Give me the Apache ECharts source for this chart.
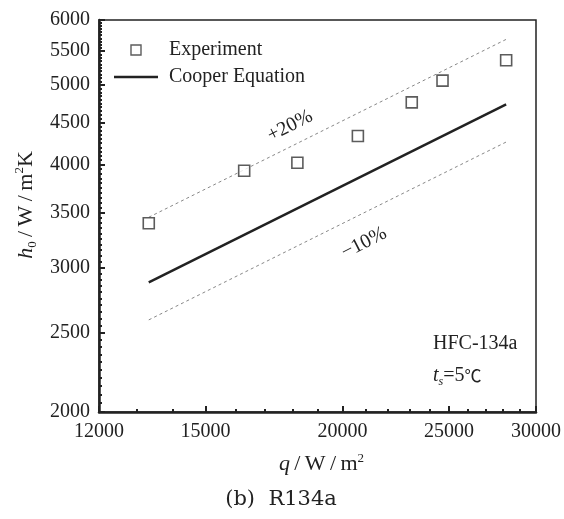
<!DOCTYPE html>
<html>
<head>
<meta charset="utf-8">
<script src="https://cdn.jsdelivr.net/npm/echarts@6/dist/echarts.min.js"></script>
<style>
  html, body { margin: 0; padding: 0; background: #fff; }
  #main { width: 564px; height: 519px; }
</style>
</head>
<body>
<div id="main"></div>
<script>
// measured points (q, h0)
const expQ = [13320, 16270, 18190, 20650, 23120, 24660, 28180];
const expH = [3395, 3932, 4021, 4334, 4763, 5062, 5360];
// Cooper correlation and its +20% / -10% bands (end points)
const lineQ = [13320, 28180];
const cooperH = [2877, 4736];
const upperH = [3452, 5683];
const lowerH = [2589, 4262];

const xTicks = [12000, 15000, 20000, 25000, 30000];
const yTicks = [2000, 2500, 3000, 3500, 4000, 4500, 5000, 5500, 6000];

// minor ticks
let xMinor = [];
for (let v = 13000; v < 30000; v += 1000) {
  if (xTicks.indexOf(v) < 0) xMinor.push(v);
}
let yMinor = [];
for (let v = 2050; v < 6000; v += 50) {
  if (yTicks.indexOf(v) < 0) yMinor.push(v);
}

const serif = '"Liberation Serif", "Times New Roman", serif';
const ink = '#222';
const thin = '\u2009';

function pairs(xs, ys) {
  return xs.map((x, i) => [x, ys[i]]);
}
function plain(v) {
  return String(Math.round(v));
}

const dom = document.getElementById('main');
const myChart = echarts.init(dom, null, { renderer: 'canvas' });

const option = {
  backgroundColor: '#fff',
  animation: false,
  grid: {
    left: 99, right: 26, top: 20, bottom: 107,
    show: true, borderColor: ink, borderWidth: 1.5
  },
  legend: {
    orient: 'vertical',
    left: 114, top: 40, padding: 0,
    itemWidth: 44, itemHeight: 10, itemGap: 7,
    symbolKeepAspect: true,
    data: [
      {
        name: 'Experiment',
        icon: 'path://M0,0H10V10H0Z',
        itemStyle: { color: '#fff', borderColor: '#333', borderWidth: 1.4 }
      },
      {
        name: 'Cooper Equation',
        icon: 'path://M0,0H44V2.5H0Z',
        itemStyle: { color: ink, borderWidth: 0 }
      }
    ],
    textStyle: { fontFamily: serif, fontSize: 20, color: ink, padding: [0, 0, 0, 6] }
  },
  xAxis: [
    {
      type: 'log', logBase: 10, min: 12000, max: 30000,
      name: '{it|q}{n|' + thin + '/' + thin + 'W' + thin + '/' + thin + 'm}{sup|2}',
      nameLocation: 'middle', nameGap: 40,
      nameTextStyle: {
        fontFamily: serif, color: ink,
        padding: [0, 0, 0, 8],
        rich: {
          it: { fontFamily: serif, fontStyle: 'italic', fontSize: 22, lineHeight: 24, color: ink },
          n: { fontFamily: serif, fontSize: 22, lineHeight: 24, color: ink },
          sup: { fontFamily: serif, fontSize: 13, lineHeight: 12, verticalAlign: 'top', color: ink }
        }
      },
      axisLine: { show: true, onZero: false, lineStyle: { color: ink, width: 2.5 } },
      axisTick: { show: true, inside: true, length: 6, customValues: xTicks, lineStyle: { color: ink, width: 2 } },
      axisLabel: { customValues: xTicks, formatter: plain, margin: 10, fontFamily: serif, fontSize: 20, color: ink },
      splitLine: { show: false }
    },
    {
      type: 'log', logBase: 10, min: 12000, max: 30000, position: 'bottom',
      axisLine: { show: false },
      axisTick: { show: true, inside: true, length: 3, customValues: xMinor, lineStyle: { color: ink, width: 2 } },
      axisLabel: { show: false },
      splitLine: { show: false }
    }
  ],
  yAxis: [
    {
      type: 'log', logBase: 10, min: 2000, max: 6000,
      name: '{it|h}{sub|0}{n|' + thin + '/' + thin + 'W' + thin + '/' + thin + 'm}{sup|2}{n|K}',
      nameLocation: 'middle', nameGap: 57, nameRotate: 90,
      nameTextStyle: {
        fontFamily: serif, color: ink,
        padding: [0, 0, 0, 22],
        rich: {
          it: { fontFamily: serif, fontStyle: 'italic', fontSize: 22, lineHeight: 26, color: ink },
          n: { fontFamily: serif, fontSize: 22, lineHeight: 26, color: ink },
          sub: { fontFamily: serif, fontSize: 13, lineHeight: 12, verticalAlign: 'bottom', color: ink },
          sup: { fontFamily: serif, fontSize: 13, lineHeight: 12, verticalAlign: 'top', color: ink }
        }
      },
      axisLine: { show: true, onZero: false, lineStyle: { color: ink, width: 2.5 } },
      axisTick: { show: true, inside: true, length: 6, customValues: yTicks, lineStyle: { color: ink, width: 2 } },
      axisLabel: { customValues: yTicks, formatter: plain, margin: 9, fontFamily: serif, fontSize: 20, color: ink },
      splitLine: { show: false }
    },
    {
      type: 'log', logBase: 10, min: 2000, max: 6000, position: 'left',
      axisLine: { show: false },
      axisTick: { show: true, inside: true, length: 3, customValues: yMinor, lineStyle: { color: ink, width: 2 } },
      axisLabel: { show: false },
      splitLine: { show: false }
    }
  ],
  series: [
    {
      name: 'Experiment',
      type: 'scatter',
      symbol: 'rect',
      symbolSize: 11,
      itemStyle: { color: '#fff', borderColor: '#333', borderWidth: 1.6 },
      data: pairs(expQ, expH),
      z: 5
    },
    {
      name: 'Cooper Equation',
      type: 'line',
      symbol: 'none',
      lineStyle: { color: ink, width: 2.5 },
      itemStyle: { color: ink },
      data: pairs(lineQ, cooperH)
    },
    {
      name: '+20%',
      type: 'line',
      symbol: 'none',
      lineStyle: { color: '#888', width: 1, type: [3, 3] },
      data: pairs(lineQ, upperH)
    },
    {
      name: '-10%',
      type: 'line',
      symbol: 'none',
      lineStyle: { color: '#888', width: 1, type: [3, 3] },
      data: pairs(lineQ, lowerH)
    }
  ],
  graphic: [
    {
      type: 'text', x: 290, y: 126, rotation: 0.47,
      style: { text: '+20%', font: '20px ' + serif, fill: ink, align: 'center', verticalAlign: 'middle' }
    },
    {
      type: 'text', x: 364, y: 243, rotation: 0.47,
      style: { text: '\u221210%', font: '20px ' + serif, fill: ink, align: 'center', verticalAlign: 'middle' }
    },
    {
      type: 'text', left: 433, top: 334,
      style: { text: 'HFC-134a', font: '20px ' + serif, fill: ink }
    },
    {
      type: 'text', left: 433, top: 366,
      style: {
        text: '{it|t}{sub|s}{n|=5}{c|\u2103}',
        rich: {
          it: { fontFamily: serif, fontStyle: 'italic', fontSize: 20, lineHeight: 24, fill: ink },
          sub: { fontFamily: serif, fontStyle: 'italic', fontSize: 12, lineHeight: 12, verticalAlign: 'bottom', fill: ink },
          n: { fontFamily: serif, fontSize: 20, lineHeight: 24, fill: ink },
          c: { fontFamily: '"Noto Sans CJK SC", serif', fontSize: 17, lineHeight: 24, fill: ink }
        }
      }
    },
    {
      type: 'text', x: 281, y: 500,
      style: { text: '(b)  R134a', font: '21px "DejaVu Serif", serif', fill: ink, align: 'center', verticalAlign: 'middle' }
    }
  ]
};

myChart.setOption(option);
</script>
</body>
</html>
